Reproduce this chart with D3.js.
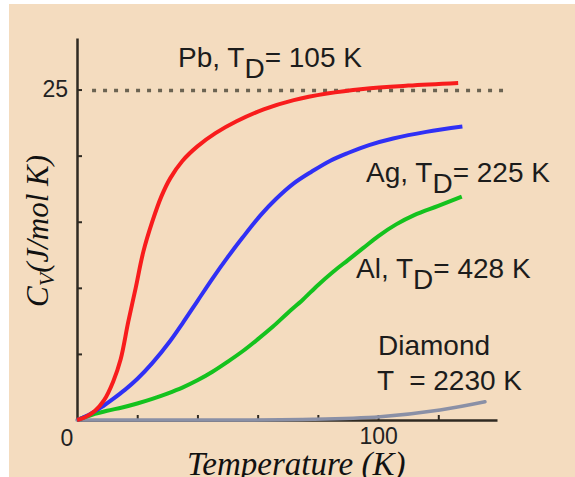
<!DOCTYPE html>
<html>
<head>
<meta charset="utf-8">
<script src="https://d3js.org/d3.v7.min.js"></script>
<style>
  body { margin: 0; background: #fff; }
  svg { display: block; }
</style>
</head>
<body>
<svg id="chart"></svg>
<script>
// values: [temperature K, Cv J/mol K]
var pbData = [[0,0],[3,0.25],[6,0.7],[9,1.5],[12,2.9],[14.5,4.6],[17,7.4],[19.5,10.0],[22,12.7],
              [25,15.0],[28,16.9],[31,18.3],[35,19.6],[40,20.7],[46,21.7],[53,22.6],[62,23.5],
              [72,24.2],[83,24.7],[95,25.05],[110,25.3],[126.6,25.5]];
var agData = [[0,0],[4,0.4],[8,0.95],[12,1.6],[16,2.3],[20,3.1],[25,4.3],[31,6.0],[35,7.3],[40,9.0],
              [45,10.7],[50,12.3],[55,13.8],[61,15.5],[66,16.7],[72,17.9],[78,18.8],[84,19.6],
              [90,20.2],[97,20.8],[105,21.3],[116,21.8],[128,22.2]];
var alData = [[0,0],[5,0.4],[10,0.7],[15,0.95],[20,1.25],[25,1.6],[30,2.0],[35,2.45],[40,3.0],
              [45,3.65],[50,4.4],[55,5.2],[60,6.1],[65,7.05],[70,8.1],[75,9.1],[80,10.2],[85,11.2],
              [90,12.1],[95,13.0],[100,13.9],[106,14.8],[112,15.5],[120,16.2],[127.8,16.9]];
var diamondData = [[0,0],[40,0],[78.4,0.05],[100.7,0.25],[120.6,0.76],[135.5,1.38]];

var xTicks = [20, 40, 60, 80, 100, 120];
var yTicks = [0, 5, 10, 15, 20, 25];
var dulongPetit = 25;

var W = 575, H = 477;
var svg = d3.select("#chart").attr("width", W).attr("height", H);

// beige panel
svg.append("rect").attr("x", 9).attr("y", 4).attr("width", W - 9).attr("height", H - 4)
   .attr("fill", "#f4dcbf");

var x = d3.scaleLinear().domain([0, 139.5]).range([77, 497]);
var y = d3.scaleLinear().domain([0, 28.9]).range([420, 38]);

var axisColor = "#2f2a22";

// dashed 3R line
svg.append("line")
   .attr("x1", x(5)).attr("x2", x(141.5))
   .attr("y1", y(dulongPetit) + 1).attr("y2", y(dulongPetit) + 1)
   .attr("stroke", "#6b6352").attr("stroke-width", 3.5)
   .attr("stroke-dasharray", "4,7");

// axes
var gx = svg.append("g").attr("transform", "translate(0,420)")
   .call(d3.axisBottom(x).tickValues(xTicks).tickSize(-5).tickSizeOuter(0)
           .tickFormat(function(d) { return d === 100 ? "100" : ""; }));
var gy = svg.append("g").attr("transform", "translate(77,0)")
   .call(d3.axisLeft(y).tickValues(yTicks).tickSize(-5).tickSizeOuter(0)
           .tickFormat(function(d) { return d === 25 ? "25" : ""; }));
[gx, gy].forEach(function(g) {
  g.select(".domain").attr("stroke", axisColor).attr("stroke-width", 2.5);
  g.selectAll(".tick line").attr("stroke", axisColor).attr("stroke-width", 2);
  g.selectAll(".tick text").attr("fill", "#222")
   .style("font-family", "'Liberation Sans', Arial, sans-serif").style("font-size", "23px");
});
gx.selectAll(".tick text").attr("y", 8).attr("dy", "0.71em");
gy.selectAll(".tick text").attr("x", -9);

svg.append("text").attr("x", x(0) - 10).attr("y", 446).attr("text-anchor", "middle")
   .attr("fill", "#222").style("font-family", "'Liberation Sans', Arial, sans-serif")
   .style("font-size", "23px").text("0");

// curves
var line = d3.line().x(function(d) { return x(d[0]); }).y(function(d) { return y(d[1]); })
             .curve(d3.curveCatmullRom.alpha(0.5));

svg.append("path").datum(diamondData).attr("d", line).attr("fill", "none")
   .attr("stroke", "#8a90a6").attr("stroke-width", 3.5).attr("stroke-linecap", "round");
svg.append("path").datum(alData).attr("d", line).attr("fill", "none")
   .attr("stroke", "#14c21e").attr("stroke-width", 4);
svg.append("path").datum(agData).attr("d", line).attr("fill", "none")
   .attr("stroke", "#3030f5").attr("stroke-width", 4);
svg.append("path").datum(pbData).attr("d", line).attr("fill", "none")
   .attr("stroke", "#f81c1c").attr("stroke-width", 4);

// annotations
var sans = "'Liberation Sans', Arial, sans-serif";
function label(px, py, pre, post) {
  var t = svg.append("text").attr("x", px).attr("y", py).attr("fill", "#1c1c1c")
     .style("font-family", sans).style("font-size", "28px");
  t.append("tspan").text(pre);
  t.append("tspan").attr("dy", 11).text("D");
  t.append("tspan").attr("dy", -11).text(post);
}
label(178, 67, "Pb, T", "= 105 K");
label(366, 182, "Ag, T", "= 225 K");
label(356, 278, "Al, T", "= 428 K");

svg.append("text").attr("x", 378).attr("y", 355).attr("fill", "#1c1c1c")
   .style("font-family", sans).style("font-size", "28px").text("Diamond");
svg.append("text").attr("x", 377).attr("y", 390).attr("fill", "#1c1c1c")
   .style("font-family", sans).style("font-size", "28px").style("white-space", "pre")
   .text("T  = 2230 K");

// axis titles
var serif = "'Liberation Serif', 'Times New Roman', serif";
var yt = svg.append("text").attr("transform", "translate(48,307) rotate(-90)")
   .attr("fill", "#111").style("font-family", serif).style("font-style", "italic")
   .style("font-size", "31px");
yt.append("tspan").text("C");
yt.append("tspan").attr("dy", 6).style("font-size", "22px").text("V");
yt.append("tspan").attr("dy", -6).text("(J/mol K)");

svg.append("text").attr("x", 187).attr("y", 475).attr("fill", "#111")
   .style("font-family", serif).style("font-style", "italic").style("font-size", "33px")
   .text("Temperature (K)");
</script>
</body>
</html>
